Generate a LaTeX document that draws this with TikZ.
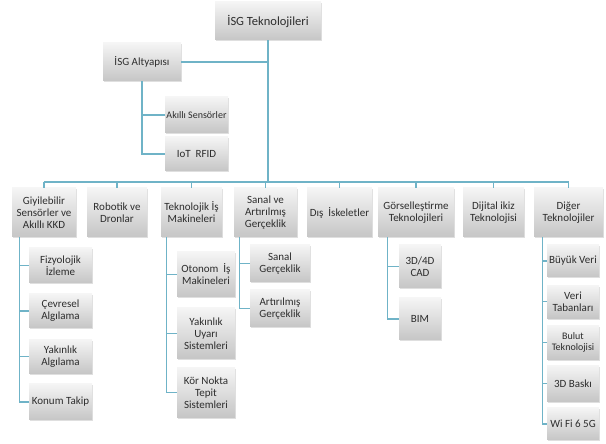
\documentclass[tikz,border=0pt]{standalone}
\usepackage{fontspec}
\setmainfont{Carlito}
\usepackage{xcolor}
\usepackage{tikz}
\usetikzlibrary{shadows, positioning}
\definecolor{LinkTeal}{RGB}{111,179,199}
\definecolor{BoxText}{RGB}{45,45,45}
\tikzstyle{box} = [rectangle, align=center, inner sep=1pt, top color=gray!8, bottom color=gray!45, text=BoxText, font=\fontsize{11}{12}\selectfont, drop shadow={opacity=0.25, shadow xshift=1pt, shadow yshift=-1.5pt}]
\tikzstyle{link} = [LinkTeal, line width=1.3pt]
\tikzset{
  branch/.style={box, minimum height=49pt},
  title/.style={box, minimum width=106pt, minimum height=38pt, font=\fontsize{12.5}{14}\selectfont}
}

\begin{document}
\begin{tikzpicture}[x=1pt, y=1pt]
  \useasboundingbox (0,0) rectangle (606,444);
  \coordinate (bus) at (0,262);
  \node (root) [title] at (268,423) {İSG Teknolojileri};
  \node (alt) [box, minimum width=78pt, minimum height=38pt] at (142,382) {İSG Altyapısı};
  \node (akilli) [box, minimum width=63pt, minimum height=36pt, font=\fontsize{10}{12}\selectfont] at (196.5,329) {Akıllı Sensörler};
  \node (iot) [box, minimum width=63pt, minimum height=34pt] at (196.5,290) {IoT~ RFID};
  \draw [link] (root.south) -- (root.south |- bus);
  \draw [link] (alt.east) -- (alt.east -| root.south);
  \draw [link] (alt.south) |- (akilli.west);
  \draw [link] (alt.south) |- (iot.west);

  \node (giy) [branch, minimum width=64pt] at (44,231.5) {Giyilebilir\\Sensörler ve\\Akıllı KKD};
  \node (rob) [branch, minimum width=60pt] at (117,231.5) {Robotik ve\\Dronlar};
  \node (tek) [branch, minimum width=61pt] at (191.5,231.5) {Teknolojik İş\\Makineleri};
  \node (san) [branch, minimum width=63pt] at (265.5,231.5) {Sanal ve\\Artırılmış\\Gerçeklik};
  \node (dis) [branch, minimum width=65pt] at (339.5,231.5) {Dış~ İskeletler};
  \node (gor) [branch, minimum width=76pt] at (416,231.5) {Görselleştirme\\Teknolojileri};
  \node (dij) [branch, minimum width=61pt] at (493.5,231.5) {Dijital ikiz\\Teknolojisi};
  \node (dig) [branch, minimum width=69pt] at (568.5,231.5) {Diğer\\Teknolojiler};
  \draw [link] (giy.north |- bus) -- (dig.north |- bus);
  \draw [link] (giy.north) -- (giy.north |- bus);
  \draw [link] (rob.north) -- (rob.north |- bus);
  \draw [link] (tek.north) -- (tek.north |- bus);
  \draw [link] (san.north) -- (san.north |- bus);
  \draw [link] (dis.north) -- (dis.north |- bus);
  \draw [link] (gor.north) -- (gor.north |- bus);
  \draw [link] (dij.north) -- (dij.north |- bus);
  \draw [link] (dig.north) -- (dig.north |- bus);

  \node (fiz) [box, minimum width=63pt, minimum height=35pt] at (60.5,178.5) {Fizyolojik\\İzleme};
  \node (cev) [box, minimum width=63pt, minimum height=34pt, node distance=45.5pt, below of=fiz] {Çevresel\\Algılama};
  \node (yak) [box, minimum width=63pt, minimum height=34pt, node distance=45.5pt, below of=cev] {Yakınlık\\Algılama};
  \node (kon) [box, minimum width=63pt, minimum height=36pt, node distance=45.5pt, below of=yak] {Konum Takip};
  \draw [link] ([xshift=8pt]giy.south west) |- (fiz.west);
  \draw [link] ([xshift=8pt]giy.south west) |- (cev.west);
  \draw [link] ([xshift=8pt]giy.south west) |- (yak.west);
  \draw [link] ([xshift=8pt]giy.south west) |- (kon.west);

  \node (oto) [box, minimum width=58pt, minimum height=45pt] at (206,169.5) {Otonom~ İş\\Makineleri};
  \node (yuy) [box, minimum width=58pt, minimum height=51pt, node distance=59pt, below of=oto] {Yakınlık\\Uyarı\\Sistemleri};
  \node (kor) [box, minimum width=58pt, minimum height=50pt, node distance=59pt, below of=yuy] {Kör Nokta\\Tepit\\Sistemleri};
  \draw [link] ([xshift=6pt]tek.south west) |- (oto.west);
  \draw [link] ([xshift=6pt]tek.south west) |- (yuy.west);
  \draw [link] ([xshift=6pt]tek.south west) |- (kor.west);

  \node (sgr) [box, minimum width=60pt, minimum height=37pt] at (280,180.5) {Sanal\\Gerçeklik};
  \node (agr) [box, minimum width=60pt, minimum height=37pt, node distance=45pt, below of=sgr] {Artırılmış\\Gerçeklik};
  \draw [link] ([xshift=6pt]san.south west) |- (sgr.west);
  \draw [link] ([xshift=6pt]san.south west) |- (agr.west);

  \node (cad) [box, minimum width=42pt, minimum height=43pt] at (420,177.5) {3D/4D\\CAD};
  \node (bim) [box, minimum width=42pt, minimum height=42pt, node distance=52.5pt, below of=cad] {BIM};
  \draw [link] ([xshift=10pt]gor.south west) |- (cad.west);
  \draw [link] ([xshift=10pt]gor.south west) |- (bim.west);

  \node (buy) [box, minimum width=52pt, minimum height=32pt] at (573,183) {Büyük Veri};
  \node (ver) [box, minimum width=52pt, minimum height=33pt, node distance=40.75pt, below of=buy] {Veri\\Tabanları};
  \node (bul) [box, minimum width=52pt, minimum height=34pt, node distance=40.75pt, below of=ver, font=\fontsize{10}{11.5}\selectfont] {Bulut\\Teknolojisi};
  \node (bas) [box, minimum width=52pt, minimum height=36pt, node distance=40.75pt, below of=bul] {3D Baskı};
  \node (wif) [box, minimum width=52pt, minimum height=32pt, node distance=40.75pt, below of=bas] {Wi Fi 6 5G};
  \draw [link] ([xshift=9pt]dig.south west) |- (buy.west);
  \draw [link] ([xshift=9pt]dig.south west) |- (ver.west);
  \draw [link] ([xshift=9pt]dig.south west) |- (bul.west);
  \draw [link] ([xshift=9pt]dig.south west) |- (bas.west);
  \draw [link] ([xshift=9pt]dig.south west) |- (wif.west);
\end{tikzpicture}
\end{document}
